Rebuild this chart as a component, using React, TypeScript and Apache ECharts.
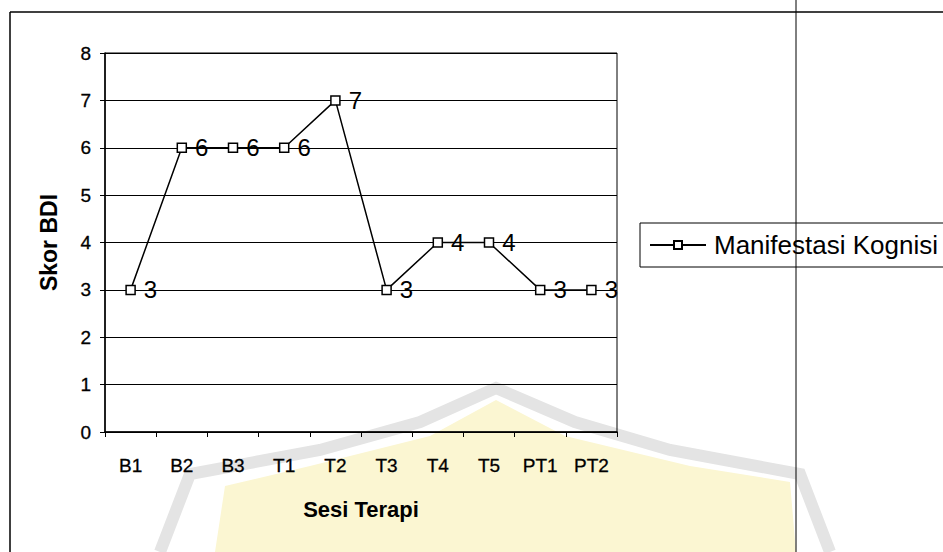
import React, { useEffect, useRef } from "react";
import * as echarts from "echarts";

const categories = ["B1", "B2", "B3", "T1", "T2", "T3", "T4", "T5", "PT1", "PT2"];
const scores = [3, 6, 6, 6, 7, 3, 4, 4, 3, 3];
const seriesName = "Manifestasi Kognisi";
const yMin = 0;
const yMax = 8;
const yInterval = 1;
const yTitle = "Skor BDI";
const xTitle = "Sesi Terapi";

const FONT = "'Liberation Sans', Arial, sans-serif";

export default function App() {
  const ref = useRef<HTMLDivElement>(null);
  useEffect(() => {
    document.body.style.margin = "0";
    const chart = echarts.init(ref.current!, undefined, { renderer: "svg" });
    chart.setOption({
      animation: false,
      backgroundColor: "#fff",
      textStyle: { fontFamily: FONT },
      graphic: [
        {
          type: "polygon",
          z: -10,
          silent: true,
          shape: {
            points: [
              [310, 466], [430, 436], [496, 400], [565, 436], [690, 466],
              [790, 482], [796, 552], [215, 552], [225, 486],
            ],
          },
          style: { fill: "#fbf6d2" },
        },
        {
          type: "polyline",
          z: -9,
          silent: true,
          shape: {
            points: [
              [160, 552], [190, 474], [320, 450], [420, 422], [496, 388],
              [575, 422], [670, 450], [800, 474], [830, 552],
            ],
          },
          style: { stroke: "#e4e4e4", lineWidth: 12, fill: "none" },
        },
        {
          type: "line",
          shape: { x1: 10, y1: 12, x2: 943, y2: 12 },
          style: { stroke: "#000", lineWidth: 1.5 },
        },
        {
          type: "line",
          shape: { x1: 10, y1: 12, x2: 10, y2: 552 },
          style: { stroke: "#000", lineWidth: 1.5 },
        },
        {
          type: "line",
          shape: { x1: 796, y1: 0, x2: 796, y2: 552 },
          style: { stroke: "#000", lineWidth: 1 },
        },
      ],
      grid: {
        left: 105,
        top: 53,
        width: 512,
        height: 379,
        show: true,
        borderColor: "#000",
        borderWidth: 1,
        backgroundColor: "transparent",
      },
      legend: {
        left: 640,
        top: 223,
        orient: "horizontal",
        data: [seriesName],
        itemWidth: 56,
        itemHeight: 10,
        borderColor: "#000",
        borderWidth: 1,
        borderRadius: 0,
        padding: [9, 20, 9, 9],
        textStyle: { fontSize: 26, color: "#000", fontFamily: FONT, lineHeight: 26, padding: [0, 0, 0, 3] },
      },
      xAxis: {
        type: "category",
        data: categories,
        boundaryGap: true,
        axisLine: { lineStyle: { color: "#000", width: 1.5 } },
        axisTick: { show: true, length: 5, lineStyle: { color: "#000" } },
        axisLabel: { fontSize: 19, color: "#000", margin: 24, fontFamily: FONT, textBorderColor: "#000", textBorderWidth: 0.3 },
        name: xTitle,
        nameLocation: "middle",
        nameGap: 66,
        nameTextStyle: { fontSize: 22, fontWeight: "bold", color: "#000", fontFamily: FONT },
        splitLine: { show: false },
      },
      yAxis: {
        type: "value",
        min: yMin,
        max: yMax,
        interval: yInterval,
        axisLine: { show: true, lineStyle: { color: "#000", width: 1.5 } },
        axisTick: { show: true, length: 5, lineStyle: { color: "#000" } },
        axisLabel: { fontSize: 19, color: "#000", margin: 14, fontFamily: FONT, textBorderColor: "#000", textBorderWidth: 0.3 },
        splitLine: { show: true, lineStyle: { color: "#000", width: 1 } },
        name: yTitle,
        nameLocation: "middle",
        nameRotate: 90,
        nameGap: 45,
        nameTextStyle: { fontSize: 23, fontWeight: "bold", color: "#000", fontFamily: FONT },
      },
      series: [
        {
          name: seriesName,
          type: "line",
          data: scores,
          symbol: "rect",
          symbolSize: 9,
          itemStyle: { color: "#fff", borderColor: "#000", borderWidth: 1.5 },
          lineStyle: { color: "#000", width: 1.5 },
          label: { show: true, position: "right", distance: 8, fontSize: 24, color: "#000", fontFamily: FONT },
        },
      ],
    });
    return () => chart.dispose();
  }, []);
  return <div ref={ref} style={{ position: "absolute", left: 0, top: 0, width: 943, height: 552 }} />;
}
